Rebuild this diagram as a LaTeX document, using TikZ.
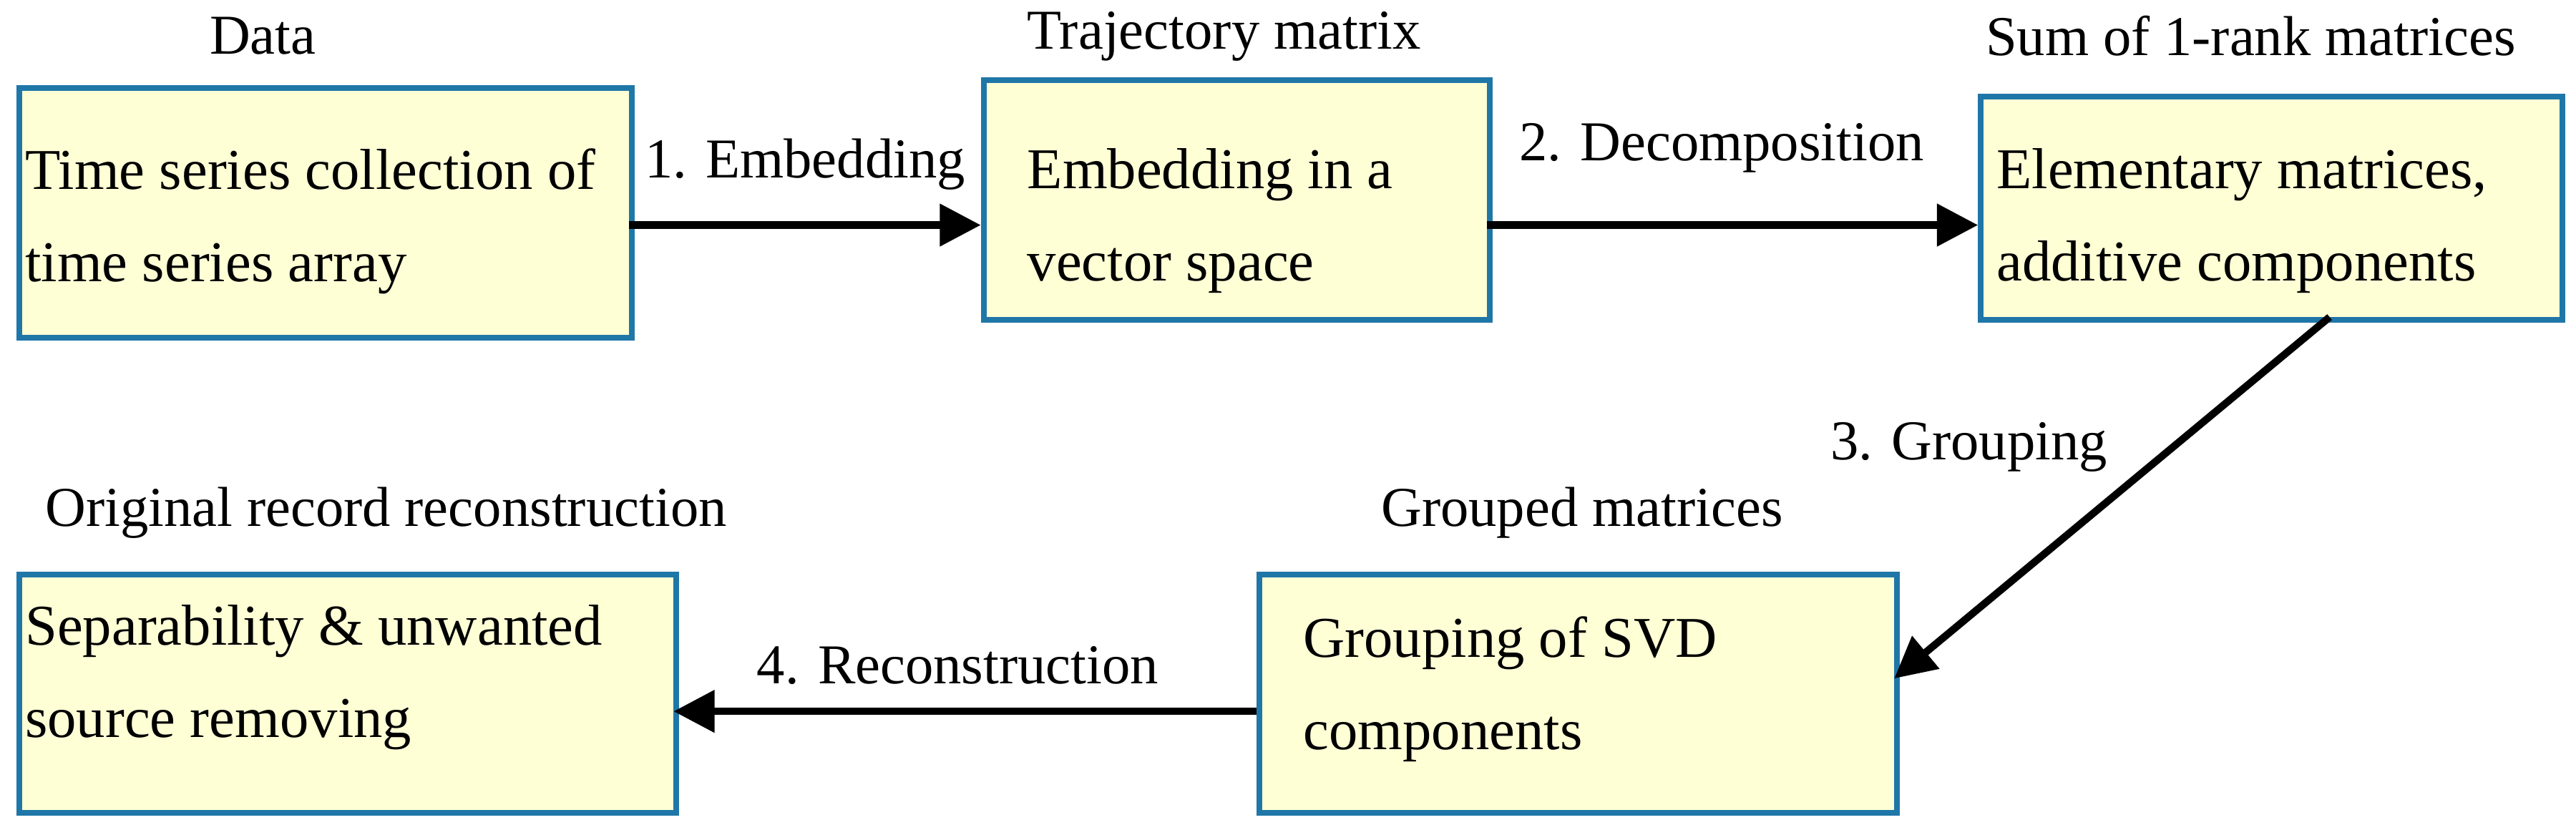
\documentclass[tikz,border=0pt]{standalone}
\usepackage{fontspec}
\setmainfont{Liberation Serif}
\newfontfamily\boxfont{Liberation Serif}
\usetikzlibrary{arrows.meta}
\definecolor{boxfill}{HTML}{FFFFD6}
\definecolor{boxdraw}{HTML}{1F77A8}
\begin{document}
\begin{tikzpicture}[x=0.02cm,y=-0.02cm,
  box/.style={draw=boxdraw,fill=boxfill,line width=0.07cm,inner sep=0,anchor=north west},
  txt/.style={align=left,anchor=north west,inner sep=0,font=\boxfont\fontsize{20}{32}\selectfont},
  lbl/.style={inner sep=0,font=\boxfont\fontsize{19.5}{23}\selectfont},
  arr/.style={line width=0.09cm,-{Triangle[length=0.5cm,width=0.5cm]}}]
\useasboundingbox (0,0) rectangle (1568,505);
\node[box,minimum width=7.46cm,minimum height=3.04cm] (b1) at (10,52) {};
\node[box,minimum width=6.16cm,minimum height=2.92cm] (b2) at (597,47) {};
\node[box,minimum width=7.08cm,minimum height=2.72cm] (b3) at (1204,57) {};
\node[box,minimum width=8.0cm,minimum height=2.9cm] (b4) at (10,348) {};
\node[box,minimum width=7.76cm,minimum height=2.9cm] (b5) at (765,348) {};
\node[txt] (t1) at (15,90) {Time series collection of\\time series array};
\node[txt] (t2) at (625,90) {Embedding in a\\vector space};
\node[txt] (t3) at (1215,90) {Elementary matrices,\\additive components};
\node[txt] (t4) at (15,368) {Separability \& unwanted\\source removing};
\node[txt] (t5) at (793,375) {Grouping of SVD\\components};
\node[lbl] (l1) at (160,22) {Data};
\node[lbl] (l2) at (745,22) {Trajectory matrix};
\node[lbl] (l3) at (1370,22) {Sum of 1-rank matrices};
\node[lbl] (l4) at (235,312) {Original record reconstruction};
\node[lbl] (l5) at (963,312) {Grouped matrices};
\coordinate (a1s) at (383,137); \coordinate (a1e) at (597,137);
\coordinate (a2s) at (905,137); \coordinate (a2e) at (1204,137);
\coordinate (a3s) at (1418,193); \coordinate (a3e) at (1153,413);
\coordinate (a4s) at (765,433); \coordinate (a4e) at (410,433);
\draw[arr] (a1s) -- (a1e);
\draw[arr] (a2s) -- (a2e);
\draw[arr] (a3s) -- (a3e);
\draw[arr] (a4s) -- (a4e);
\node[lbl] (e1) at (490,100) {1. Embedding};
\node[lbl] (e2) at (1048,90) {2. Decomposition};
\node[lbl,anchor=east] (e3) at (1283,272) {3. Grouping};
\node[lbl] (e4) at (583,405) {4. Reconstruction};
\end{tikzpicture}
\end{document}
